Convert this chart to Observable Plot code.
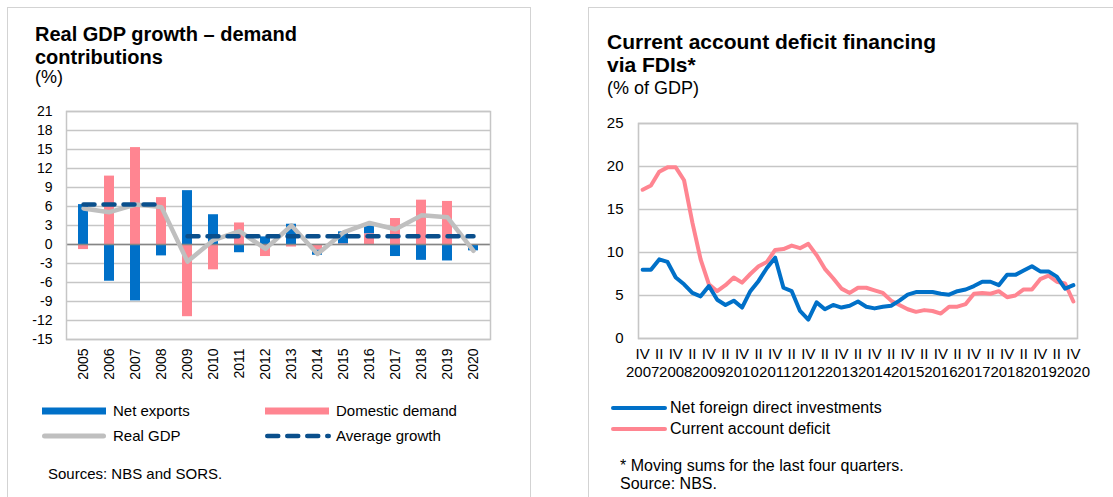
<!DOCTYPE html>
<html><head><meta charset="utf-8">
<script src="https://cdn.jsdelivr.net/npm/d3@7"></script>
<script src="https://cdn.jsdelivr.net/npm/@observablehq/plot@0.6"></script>
<style>
html,body{margin:0;padding:0}
body{width:1113px;height:497px;overflow:hidden;background:#fff;font-family:"Liberation Sans",Arial,sans-serif;color:#000;position:relative}
.panel{position:absolute;border:1.5px solid #d3d3d3;box-sizing:border-box}
.abs{position:absolute;white-space:nowrap}
.title{font-weight:bold;font-size:20px;line-height:23px}
.sub{font-size:18px;line-height:20px}
.lg{font-size:15px;line-height:18px}
.lg16{font-size:16px;line-height:18px}
.note{font-size:15px;line-height:18px}
svg.sw{position:absolute;overflow:visible}
</style></head>
<body>
<div class="panel" style="left:7px;top:7px;width:524px;height:520px"></div>
<div class="panel" style="left:588px;top:7px;width:560px;height:520px"></div>

<div class="abs title" style="left:35px;top:23px">Real GDP growth – demand<br>contributions</div>
<div class="abs sub" style="left:35px;top:67px">(%)</div>
<div id="left" class="abs" style="left:0;top:100px"></div>

<div class="abs title" style="left:607px;top:30px;font-size:21px">Current account deficit financing<br>via FDIs*</div>
<div class="abs sub" style="left:607px;top:78px">(% of GDP)</div>
<div id="right" class="abs" style="left:590px;top:110px"></div>

<div id="legendL"></div>
<div id="legendR"></div>
<div class="abs note" style="left:48px;top:465px">Sources: NBS and SORS.</div>
<div class="abs lg16" style="left:620px;top:457px">* Moving sums for the last four quarters.<br>Source: NBS.</div>

<script>
// ---------- Left chart data ----------
const years = ["2005","2006","2007","2008","2009","2010","2011","2012","2013","2014","2015","2016","2017","2018","2019","2020"];
const netExports     = [6.3,-5.8,-8.9,-1.8, 8.5, 4.7,-1.3, 1.2, 3.2,-0.8, 1.9, 1.2,-1.9,-2.5,-2.6,-1.0];
const domesticDemand = [-0.8,10.8,15.3,7.4,-11.4,-4.0, 3.4,-1.9,-0.4,-0.9, 0.1, 1.7, 4.1, 7.0, 6.8, 0.0];
const realGDP        = [5.7, 5.1, 6.3, 5.9,-2.7, 0.7, 2.1,-0.7, 3.0,-1.5, 1.9, 3.4, 2.4, 4.6, 4.3,-1.0];
const averageGrowth  = [6.3, 6.3, 6.3, 6.3, 1.3, 1.3, 1.3, 1.3, 1.3, 1.3, 1.3, 1.3, 1.3, 1.3, 1.3, 1.3];
const averagePeriod  = ["2005–2008","2005–2008","2005–2008","2005–2008","2009–2020","2009–2020","2009–2020","2009–2020","2009–2020","2009–2020","2009–2020","2009–2020","2009–2020","2009–2020","2009–2020","2009–2020"];
const leftYTicks = [-15,-12,-9,-6,-3,0,3,6,9,12,15,18,21];
const leftSeries = ["Net exports","Domestic demand","Real GDP","Average growth"];

// ---------- Right chart data ----------
const quarters = ["2007 Q4",
 "2008 Q1","2008 Q2","2008 Q3","2008 Q4","2009 Q1","2009 Q2","2009 Q3","2009 Q4",
 "2010 Q1","2010 Q2","2010 Q3","2010 Q4","2011 Q1","2011 Q2","2011 Q3","2011 Q4",
 "2012 Q1","2012 Q2","2012 Q3","2012 Q4","2013 Q1","2013 Q2","2013 Q3","2013 Q4",
 "2014 Q1","2014 Q2","2014 Q3","2014 Q4","2015 Q1","2015 Q2","2015 Q3","2015 Q4",
 "2016 Q1","2016 Q2","2016 Q3","2016 Q4","2017 Q1","2017 Q2","2017 Q3","2017 Q4",
 "2018 Q1","2018 Q2","2018 Q3","2018 Q4","2019 Q1","2019 Q2","2019 Q3","2019 Q4",
 "2020 Q1","2020 Q2","2020 Q3","2020 Q4"];
const netFDI = [8.0,
 8.0,9.2,8.9,7.1, 6.3,5.3,4.9,6.1, 4.5,3.9,4.4,3.6, 5.5,6.7,8.2,9.4,
 5.9,5.5,3.2,2.2, 4.2,3.4,3.9,3.6, 3.8,4.3,3.7,3.5, 3.7,3.8,4.4,5.1,
 5.4,5.4,5.4,5.2, 5.1,5.5,5.7,6.1, 6.6,6.6,6.2,7.4, 7.4,7.9,8.4,7.8,
 7.8,7.2,5.8,6.2];
const caDeficit = [17.3,
 17.8,19.4,19.9,19.9, 18.4,13.5,9.2,6.3, 5.5,6.2,7.1,6.5, 7.5,8.4,8.9,10.3,
 10.4,10.8,10.5,11.0, 9.7,8.1,7.0,5.8, 5.3,5.9,5.9,5.6, 5.3,4.4,3.9,3.4,
 3.1,3.3,3.2,2.9, 3.7,3.7,4.0,5.2, 5.3,5.2,5.5,4.8, 5.0,5.7,5.7,6.9,
 7.3,6.6,6.4,4.3];
const rightYTicks = [0,5,10,15,20,25];
const quarterRoman = {Q1:"I",Q2:"II",Q3:"III",Q4:"IV"};
const rightSeries = ["Net foreign direct investments","Current account deficit"];

const BLUE = "#0070c8", PINK = "#ff8591", GRAY = "#bfbfbf", DBLUE = "#0a4f8c", GRID = "#c6c6c6";
const font = {fontFamily:"'Liberation Sans', Arial, sans-serif", color:"#000", background:"transparent", overflow:"visible"};

// ---------- Left chart ----------
const barRows = [];
years.forEach((y,i)=>barRows.push({year:y, series:"Domestic demand", value:domesticDemand[i]}));
years.forEach((y,i)=>barRows.push({year:y, series:"Net exports", value:netExports[i]}));
const gdpRows = years.map((y,i)=>({year:y, value:realGDP[i]}));
const avgRows = years.map((y,i)=>({year:y, value:averageGrowth[i], period:averagePeriod[i]}));

const left = Plot.plot({
  width:530, height:290,
  marginLeft:66, marginRight:40, marginTop:11, marginBottom:51,
  style:{...font, fontSize:"14px"},
  x:{type:"band", domain:years, paddingInner:0.6, paddingOuter:0.3},
  y:{domain:[-15,21]},
  color:{domain:["Net exports","Domestic demand"], range:[BLUE,PINK]},
  marks:[
    Plot.gridY(leftYTicks,{stroke:GRID, strokeOpacity:1, strokeWidth:1.3}),
    Plot.barY(barRows,{x:"year", y:"value", fill:"series"}),
    Plot.ruleY([0],{stroke:"#858585", strokeWidth:1.6}),
    Plot.line(gdpRows,{x:"year", y:"value", stroke:GRAY, strokeWidth:4.5, strokeLinejoin:"round"}),
    Plot.line(avgRows,{x:"year", y:"value", z:"period", stroke:DBLUE, strokeWidth:4.5, strokeDasharray:"11,9", strokeLinecap:"round"}),
    Plot.frame({stroke:GRID, strokeWidth:1.5}),
    Plot.axisY(leftYTicks,{tickSize:0, tickPadding:14, label:null, fontSize:14, tickFormat:d=>String(d)}),
    Plot.axisX({tickSize:0, tickRotate:-90, tickPadding:9, label:null, fontSize:14})
  ]
});
document.getElementById("left").appendChild(left);

// ---------- Right chart ----------
const fdiRows = quarters.map((q,i)=>({i, value:netFDI[i]}));
const caRows = quarters.map((q,i)=>({i, value:caDeficit[i]}));
const labelTicks = quarters.map((q,i)=>i).filter(i=>["Q2","Q4"].includes(quarters[i].split(" ")[1]));
const yearTicks = quarters.map((q,i)=>i).filter(i=>quarters[i].split(" ")[1]==="Q4");

const right = Plot.plot({
  width:500, height:278,
  marginLeft:48, marginRight:13, marginTop:13, marginBottom:50,
  style:{...font, fontSize:"15px"},
  x:{type:"linear", domain:[-0.5, quarters.length-0.5]},
  y:{domain:[0,25]},
  marks:[
    Plot.gridY(rightYTicks,{stroke:GRID, strokeOpacity:1, strokeWidth:1.6}),
    Plot.frame({stroke:GRID, strokeWidth:1.6}),
    Plot.line(caRows,{x:"i", y:"value", stroke:PINK, strokeWidth:4, strokeLinejoin:"round"}),
    Plot.line(fdiRows,{x:"i", y:"value", stroke:BLUE, strokeWidth:4, strokeLinejoin:"round"}),
    Plot.axisY(rightYTicks,{tickSize:0, tickPadding:15, label:null, fontSize:15}),
    Plot.axisX(labelTicks,{tickSize:0, tickPadding:10, label:null, fontSize:15,
      tickFormat:i=>quarterRoman[quarters[i].split(" ")[1]]}),
    Plot.axisX(yearTicks,{tickSize:0, tickPadding:28, label:null, fontSize:15,
      tickFormat:i=>quarters[i].split(" ")[0]})
  ]
});
document.getElementById("right").appendChild(right);

// ---------- Legends ----------
function swatch(parent, x, y, w, opts){
  const ns="http://www.w3.org/2000/svg";
  const s=document.createElementNS(ns,"svg");
  s.setAttribute("class","sw");
  s.setAttribute("width",w); s.setAttribute("height",10);
  s.style.left=x+"px"; s.style.top=(y-5)+"px";
  const l=document.createElementNS(ns,"line");
  const cap = opts.cap||"butt";
  const inset = cap==="round" ? opts.width/2 : 0;
  l.setAttribute("x1",inset); l.setAttribute("x2",w-inset);
  l.setAttribute("y1",5); l.setAttribute("y2",5);
  l.setAttribute("stroke",opts.color); l.setAttribute("stroke-width",opts.width);
  l.setAttribute("stroke-linecap",cap);
  if(opts.dash) l.setAttribute("stroke-dasharray",opts.dash);
  s.appendChild(l); parent.appendChild(s);
}
function label(parent, x, y, text, cls){
  const d=document.createElement("div");
  d.className="abs "+(cls||"lg"); d.style.left=x+"px"; d.style.top=(y-9)+"px";
  d.textContent=text; parent.appendChild(d);
}
const LL=document.getElementById("legendL");
swatch(LL,42,411,64,{color:BLUE,width:7});
label(LL,113,411,leftSeries[0]);
swatch(LL,265,411,64,{color:PINK,width:7});
label(LL,336,411,leftSeries[1]);
swatch(LL,42,436,64,{color:GRAY,width:5,cap:"round"});
label(LL,113,436,leftSeries[2]);
swatch(LL,265,436,66,{color:DBLUE,width:4.5,cap:"round",dash:"11,9"});
label(LL,336,436,leftSeries[3]);

const LR=document.getElementById("legendR");
swatch(LR,611,408,56,{color:BLUE,width:4,cap:"round"});
label(LR,670,408,rightSeries[0],"lg16");
swatch(LR,611,429,56,{color:PINK,width:4,cap:"round"});
label(LR,670,429,rightSeries[1],"lg16");
</script>
</body></html>
